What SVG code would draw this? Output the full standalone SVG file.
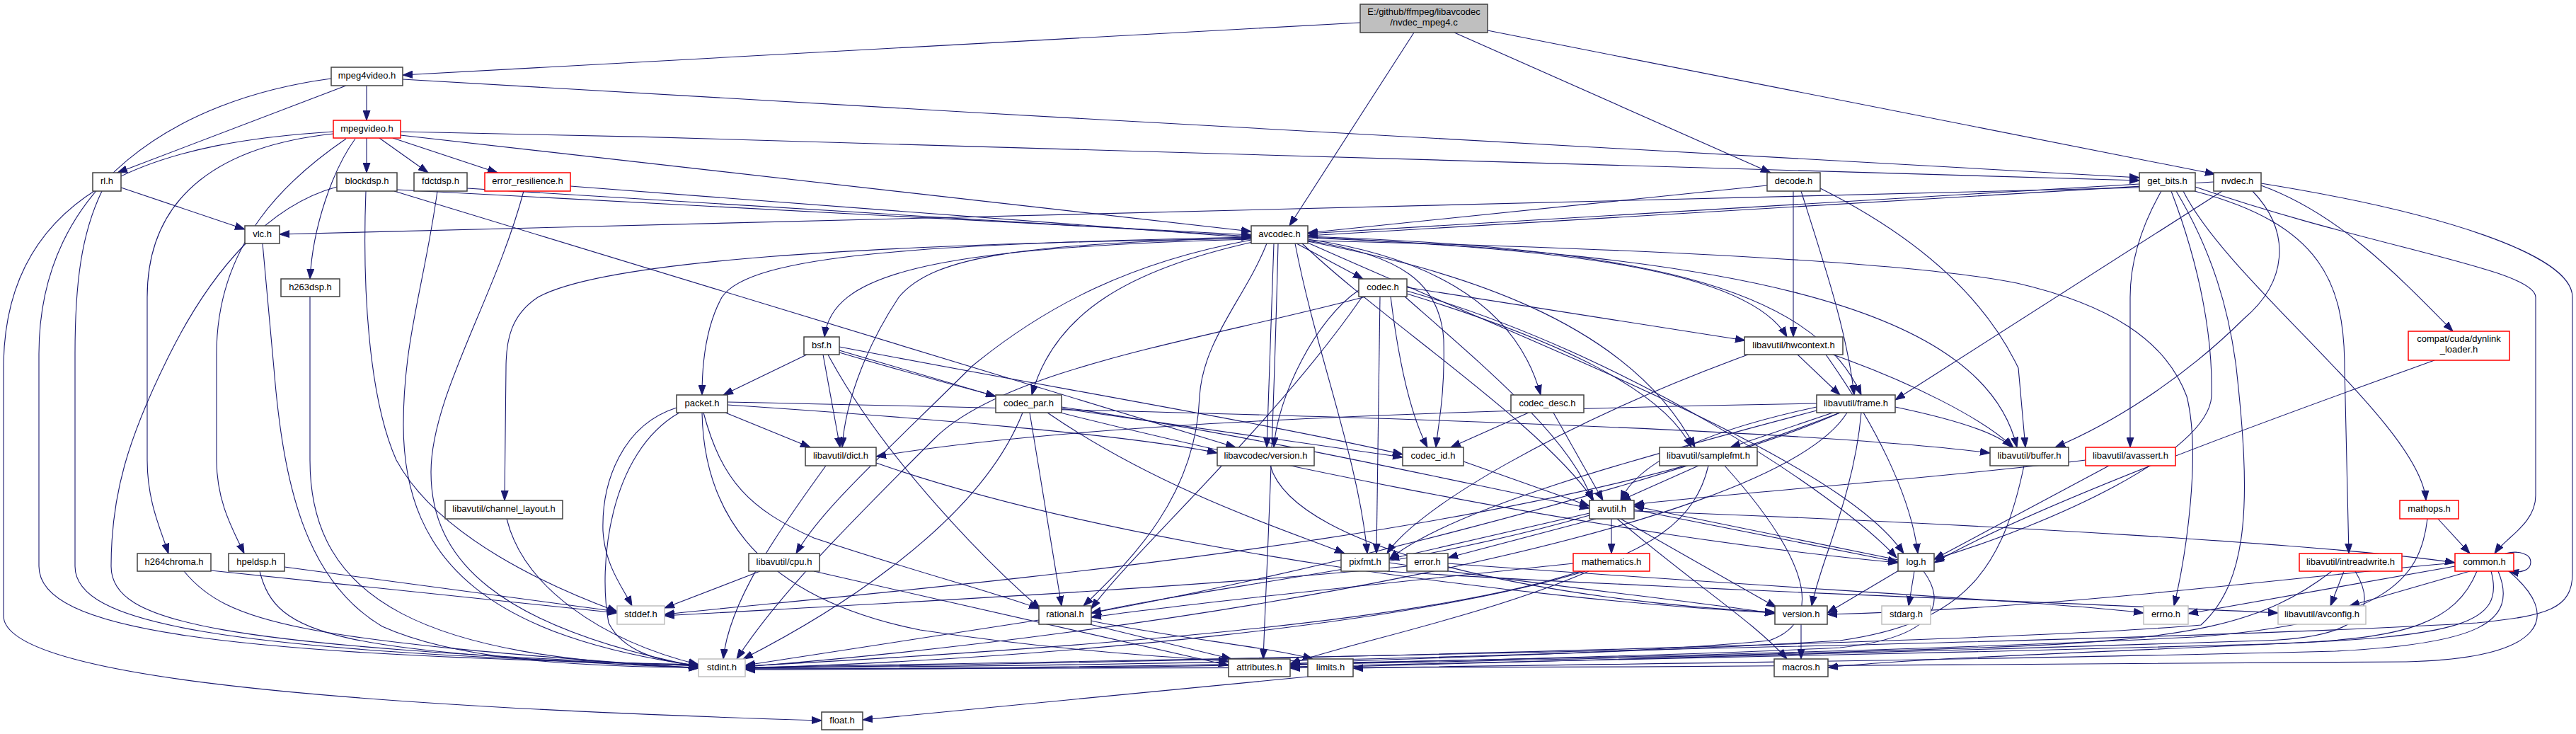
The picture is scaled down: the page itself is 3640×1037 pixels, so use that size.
<svg xmlns="http://www.w3.org/2000/svg" width="3640" height="1037" viewBox="0 0 3640 1037">
<style>
.bg{fill:#fff}
.e path{fill:none;stroke:#191970;stroke-width:1.1;marker-end:url(#a)}
.n rect{fill:#fff;stroke:#404040;stroke-width:1.5}
.n.r rect{stroke:#ff0000}
.n.g rect{stroke:#bfbfbf}
.n.root rect{fill:#bfbfbf}
.n text{font-family:"Liberation Sans",Arial,Helvetica,sans-serif;font-size:13px;text-anchor:middle;fill:#000}
</style>
<defs>
<marker id="a" markerWidth="15" markerHeight="11" refX="14" refY="5.5" orient="auto" markerUnits="userSpaceOnUse">
<path d="M0,0.5 L14,5.5 L0,10.5 z" fill="#191970" stroke="#191970" stroke-width="1"/>
</marker>
</defs>
<rect class="bg" x="0" y="0" width="3640" height="1037"/>
<g id="connectors" class="e">
<path d="M1922,32 L569,106"/>
<path d="M1998,46 L1822,319"/>
<path d="M2055,46 L2502,244"/>
<path d="M2102,43 L3130,246"/>
<path d="M518,121 L518,170"/>
<path d="M489,121 L166,244"/>
<path d="M569,112 C1400,160 2400,220 3023,251"/>
<path d="M468,111 C250,140 55,260 55,500 L55,800 C55,890 300,925 987,939"/>
<path d="M518,195 L518,244"/>
<path d="M536,195 L605,244"/>
<path d="M555,195 L703,244"/>
<path d="M502,196 C470,240 442,320 438,394"/>
<path d="M471,189 C320,205 208,270 208,420 L208,650 C208,710 228,750 238,782"/>
<path d="M489,196 C410,250 306,340 306,500 L306,650 C306,710 330,750 345,782"/>
<path d="M471,186 C250,200 5,250 5,520 L5,870 C5,950 400,995 1161,1018"/>
<path d="M566,186 C1500,205 2500,235 3023,255"/>
<path d="M566,191 L1768,327"/>
<path d="M171,265 L346,324"/>
<path d="M144,270 C115,330 106,400 106,500 L106,800 C106,880 300,920 987,940"/>
<path d="M476,264 C380,290 300,380 240,500 C180,620 157,700 157,800 C157,880 300,912 987,941"/>
<path d="M517,270 C512,400 520,560 560,650 C620,760 780,830 872,864"/>
<path d="M561,268 L1768,332"/>
<path d="M557,270 L1746,632"/>
<path d="M660,266 L1768,334"/>
<path d="M618,270 C600,400 570,480 570,600 C570,800 700,900 987,941"/>
<path d="M806,263 L1768,336"/>
<path d="M740,270 C700,420 609,560 609,667 C609,790 700,885 987,942"/>
<path d="M371,344 L387,520 C400,680 430,820 540,885 C640,930 800,942 987,943"/>
<path d="M438,419 L438,650 C438,850 600,930 987,943"/>
<path d="M298,806 L872,866"/>
<path d="M260,807 C320,880 420,905 987,944"/>
<path d="M402,801 L872,864"/>
<path d="M367,807 C390,900 470,920 987,944"/>
<path d="M1768,338 C1300,350 1175,390 1165,476"/>
<path d="M1768,335 C1300,345 1060,360 1020,420 C998,460 992,510 992,558"/>
<path d="M1768,336 C1450,345 1320,360 1270,420 C1230,480 1195,560 1190,632"/>
<path d="M1768,339 C1600,370 1480,430 1374,517 C1250,640 1160,720 1125,782"/>
<path d="M1768,337 C1200,345 850,370 760,420 C722,445 715,480 715,520 L713,707"/>
<path d="M1790,344 C1760,420 1700,480 1695,560 C1690,700 1600,790 1531,856"/>
<path d="M1806,344 C1800,600 1790,800 1785,931"/>
<path d="M1832,344 L1926,394"/>
<path d="M1770,342 C1600,380 1490,440 1458,558"/>
<path d="M1848,338 C2000,360 2140,420 2177,558"/>
<path d="M1848,340 C1980,360 2035,400 2040,480 C2042,560 2032,600 2029,632"/>
<path d="M1848,341 C2050,380 2300,450 2395,632"/>
<path d="M1848,334 C2300,350 2560,400 2630,558"/>
<path d="M1848,336 C2200,350 2470,380 2525,476"/>
<path d="M1840,344 C1950,450 2180,600 2252,707"/>
<path d="M1848,343 C2200,500 2600,650 2690,782"/>
<path d="M1830,344 C1860,500 1920,650 1932,782"/>
<path d="M1848,335 C2400,360 2800,420 2850,632"/>
<path d="M1848,340 C2300,350 2700,370 2850,400 C2980,430 3060,480 3090,560 C3110,640 3090,780 3072,856"/>
<path d="M1800,344 L1790,632"/>
<path d="M1930,419 C1700,480 1420,520 1320,620 C1200,740 1100,840 1041,931"/>
<path d="M1985,419 C2100,520 2220,620 2250,707"/>
<path d="M1988,406 L2466,481"/>
<path d="M1988,411 C2300,500 2600,700 2680,788"/>
<path d="M1950,419 L1945,782"/>
<path d="M1925,419 C1800,600 1600,780 1542,860"/>
<path d="M1988,415 C2200,480 2350,550 2390,632"/>
<path d="M1965,419 C1975,500 1990,580 2017,632"/>
<path d="M1920,410 C1860,450 1805,560 1800,632"/>
<path d="M1140,501 L1022,558"/>
<path d="M1163,501 L1187,632"/>
<path d="M1186,495 L1407,560"/>
<path d="M1186,490 C1500,550 1800,600 1982,642"/>
<path d="M1170,501 C1250,650 1400,800 1470,860"/>
<path d="M1186,498 C1700,650 2300,760 2682,795"/>
<path d="M2160,583 L2050,632"/>
<path d="M2195,583 L2265,707"/>
<path d="M2068,652 L2246,715"/>
<path d="M1445,583 C1380,750 1150,880 1050,931"/>
<path d="M1455,583 L1500,856"/>
<path d="M1480,583 C1650,700 1850,760 1900,782"/>
<path d="M1500,575 C1800,620 2100,690 2246,718"/>
<path d="M1500,577 L1982,646"/>
<path d="M1025,583 L1145,632"/>
<path d="M1028,572 C1300,590 1600,615 1720,640"/>
<path d="M1028,568 C1600,580 2500,600 2812,640"/>
<path d="M956,576 C880,600 850,680 852,750 C855,800 880,830 893,856"/>
<path d="M960,583 C860,640 845,800 860,880 C880,920 930,935 987,940"/>
<path d="M994,583 C1020,680 1060,720 1150,760 C1300,810 1400,835 1468,860"/>
<path d="M992,583 C995,750 1100,850 1300,890 C1500,920 1650,928 1736,934"/>
<path d="M1167,658 C1100,750 1030,850 1022,931"/>
<path d="M1238,654 C1600,780 2200,850 2508,866"/>
<path d="M1795,658 C1830,780 2200,850 2508,865"/>
<path d="M1074,807 L939,859"/>
<path d="M1150,807 L1736,940"/>
<path d="M1468,876 L1053,940"/>
<path d="M1540,882 L1740,931"/>
<path d="M1542,877 C1650,900 1800,915 1855,931"/>
<path d="M716,733 C740,830 850,905 987,939"/>
<path d="M2400,658 L2290,707"/>
<path d="M2414,658 C2380,800 2200,880 1053,941"/>
<path d="M2437,658 C2520,750 2600,870 2500,905 C2300,925 1950,930 1823,938"/>
<path d="M2567,575 C2450,600 2320,640 2290,707"/>
<path d="M2678,575 C2750,590 2820,610 2843,632"/>
<path d="M2567,570 C2000,580 1500,600 1238,645"/>
<path d="M2600,583 C2300,700 1800,820 1542,866"/>
<path d="M2590,583 L2445,632"/>
<path d="M2567,580 C2300,650 2050,720 1963,790"/>
<path d="M2630,583 C2620,700 2570,800 2560,856"/>
<path d="M2600,583 C2200,760 1300,830 939,868"/>
<path d="M2610,583 C2500,760 1600,900 1053,942"/>
<path d="M2540,501 L2600,558"/>
<path d="M2590,501 C2700,540 2800,590 2845,632"/>
<path d="M2580,501 C2650,600 2700,700 2710,782"/>
<path d="M2470,501 C2200,600 2000,720 1960,782"/>
<path d="M2497,262 L1848,329"/>
<path d="M2534,270 L2534,476"/>
<path d="M2545,270 C2580,380 2610,470 2620,558"/>
<path d="M2572,266 C2660,310 2790,390 2852,520 L2862,632"/>
<path d="M3128,257 C2600,290 2100,320 1848,333"/>
<path d="M3140,270 L2678,565"/>
<path d="M3183,270 C3240,330 3230,400 3171,450 C3080,540 2980,600 2904,632"/>
<path d="M3195,262 C3300,300 3380,380 3466,468"/>
<path d="M3195,259 C3450,300 3635,360 3635,420 L3635,810 C3635,860 3600,870 3500,880 C3000,910 1500,935 1053,943"/>
<path d="M3023,260 L1848,330"/>
<path d="M3023,265 L395,331"/>
<path d="M3054,270 C3020,330 3010,380 3010,420 L3010,632"/>
<path d="M3085,270 C3150,400 3420,600 3428,707"/>
<path d="M3101,270 C3280,317 3313,400 3313,520 L3319,782"/>
<path d="M3102,264 C3350,350 3583,380 3583,420 L3583,700 C3583,740 3540,760 3525,782"/>
<path d="M3068,270 C3110,380 3127,480 3125,560 C3120,640 2900,740 2733,790"/>
<path d="M3075,270 C3127,357 3150,440 3160,520 C3180,700 3180,820 3110,883 C2800,910 1500,938 1053,944"/>
<path d="M2246,725 L1963,790"/>
<path d="M2255,733 L2046,788"/>
<path d="M2277,733 L2277,782"/>
<path d="M2290,733 L2510,858"/>
<path d="M2285,733 C2400,830 2480,880 2525,931"/>
<path d="M2309,720 L2682,794"/>
<path d="M2246,728 C2000,800 1700,830 1542,866"/>
<path d="M2309,722 C2800,740 3300,770 3469,795"/>
<path d="M2682,791 L2309,715"/>
<path d="M2705,807 L2697,856"/>
<path d="M2683,806 L2582,866"/>
<path d="M2718,807 C2750,850 2740,900 2600,915 C2300,930 1900,935 1823,940"/>
<path d="M2046,796 C2500,830 2900,850 3029,866"/>
<path d="M1988,800 C1700,830 1200,855 939,870"/>
<path d="M2223,796 C2000,820 1700,850 1542,872"/>
<path d="M2240,807 C2000,880 1500,930 1053,944"/>
<path d="M2245,807 C2100,870 1900,910 1823,938"/>
<path d="M1963,795 C2200,830 2400,850 2508,867"/>
<path d="M1960,807 C2300,830 2900,850 3219,866"/>
<path d="M2545,882 L2545,931"/>
<path d="M3469,800 L3092,867"/>
<path d="M3490,807 L3320,856"/>
<path d="M3469,795 C3200,820 2900,860 2582,868"/>
<path d="M3500,807 C3470,880 3400,900 3250,908 C3000,920 2700,930 2583,943"/>
<path d="M3530,807 C3560,880 3500,910 3300,920 C2700,935 2100,940 1912,944"/>
<path d="M3545,807 C3620,870 3600,930 3400,935 C2800,942 1500,945 1053,945"/>
<path d="M3520,807 C3540,880 3480,900 3200,910 C2700,925 2100,935 1823,942"/>
<path d="M3540,782 C3560,777 3576,783 3576,794 C3576,806 3562,810 3545,807"/>
<path d="M3445,733 L3490,782"/>
<path d="M3430,733 C3420,820 3370,880 3100,900 C2500,930 1500,945 1053,945"/>
<path d="M3312,807 L3293,856"/>
<path d="M3295,807 C3200,880 3100,905 2800,915 C2200,935 1500,946 1053,946"/>
<path d="M3328,807 C3360,860 3340,900 3200,905 C2700,922 2100,935 1823,944"/>
<path d="M2947,650 C2700,680 2400,700 2309,713"/>
<path d="M2980,658 L2733,790"/>
<path d="M3440,509 C3300,560 2900,700 2733,795"/>
<path d="M2860,658 C2830,800 2780,880 2600,905 C2200,930 1500,942 1053,943"/>
<path d="M1848,956 L1219,1017"/>
</g>
<g id="root" class="n root"><rect x="1922" y="6" width="180" height="40"/><text x="2012" y="21">E:/github/ffmpeg/libavcodec</text><text x="2012" y="36">/nvdec_mpeg4.c</text></g>
<g id="mpeg4video" class="n"><rect x="468" y="95" width="101" height="26"/><text x="518.5" y="111">mpeg4video.h</text></g>
<g id="mpegvideo" class="n r"><rect x="471" y="170" width="95" height="25"/><text x="518.5" y="185.5">mpegvideo.h</text></g>
<g id="rl" class="n"><rect x="131" y="244" width="40" height="26"/><text x="151" y="260">rl.h</text></g>
<g id="blockdsp" class="n"><rect x="476" y="244" width="85" height="26"/><text x="518.5" y="260">blockdsp.h</text></g>
<g id="fdctdsp" class="n"><rect x="585" y="244" width="75" height="26"/><text x="622.5" y="260">fdctdsp.h</text></g>
<g id="error_resilience" class="n r"><rect x="685" y="244" width="121" height="26"/><text x="745.5" y="260">error_resilience.h</text></g>
<g id="vlc" class="n"><rect x="346" y="319" width="49" height="25"/><text x="370.5" y="334.5">vlc.h</text></g>
<g id="h263dsp" class="n"><rect x="397" y="394" width="83" height="25"/><text x="438.5" y="409.5">h263dsp.h</text></g>
<g id="avcodec" class="n"><rect x="1768" y="319" width="80" height="25"/><text x="1808" y="334.5">avcodec.h</text></g>
<g id="bsf" class="n"><rect x="1136" y="476" width="50" height="25"/><text x="1161" y="491.5">bsf.h</text></g>
<g id="decode" class="n"><rect x="2497" y="244" width="75" height="26"/><text x="2534.5" y="260">decode.h</text></g>
<g id="codec" class="n"><rect x="1920" y="394" width="68" height="25"/><text x="1954" y="409.5">codec.h</text></g>
<g id="hwcontext" class="n"><rect x="2465" y="476" width="139" height="25"/><text x="2534.5" y="491.5">libavutil/hwcontext.h</text></g>
<g id="get_bits" class="n"><rect x="3023" y="244" width="79" height="26"/><text x="3062.5" y="260">get_bits.h</text></g>
<g id="nvdec" class="n"><rect x="3128" y="244" width="67" height="26"/><text x="3161.5" y="260">nvdec.h</text></g>
<g id="dynlink_loader" class="n r"><rect x="3403" y="468" width="143" height="41"/><text x="3474.5" y="483">compat/cuda/dynlink</text><text x="3474.5" y="498">_loader.h</text></g>
<g id="channel_layout" class="n"><rect x="629" y="707" width="166" height="26"/><text x="712" y="723">libavutil/channel_layout.h</text></g>
<g id="h264chroma" class="n"><rect x="194" y="782" width="104" height="25"/><text x="246" y="797.5">h264chroma.h</text></g>
<g id="hpeldsp" class="n"><rect x="323" y="782" width="79" height="25"/><text x="362.5" y="797.5">hpeldsp.h</text></g>
<g id="stddef" class="n g"><rect x="872" y="856" width="67" height="26"/><text x="905.5" y="872">stddef.h</text></g>
<g id="packet" class="n"><rect x="956" y="558" width="72" height="25"/><text x="992" y="573.5">packet.h</text></g>
<g id="codec_par" class="n"><rect x="1407" y="558" width="93" height="25"/><text x="1453.5" y="573.5">codec_par.h</text></g>
<g id="dict" class="n"><rect x="1138" y="632" width="100" height="26"/><text x="1188" y="648">libavutil/dict.h</text></g>
<g id="lavc_version" class="n"><rect x="1720" y="632" width="137" height="26"/><text x="1788.5" y="648">libavcodec/version.h</text></g>
<g id="cpu" class="n"><rect x="1058" y="782" width="100" height="25"/><text x="1108" y="797.5">libavutil/cpu.h</text></g>
<g id="rational" class="n"><rect x="1468" y="856" width="74" height="26"/><text x="1505" y="872">rational.h</text></g>
<g id="stdint" class="n g"><rect x="987" y="931" width="66" height="25"/><text x="1020" y="946.5">stdint.h</text></g>
<g id="attributes" class="n"><rect x="1736" y="931" width="87" height="25"/><text x="1779.5" y="946.5">attributes.h</text></g>
<g id="float" class="n"><rect x="1161" y="1006" width="58" height="25"/><text x="1190" y="1021.5">float.h</text></g>
<g id="codec_desc" class="n"><rect x="2135" y="558" width="103" height="25"/><text x="2186.5" y="573.5">codec_desc.h</text></g>
<g id="codec_id" class="n"><rect x="1982" y="632" width="86" height="26"/><text x="2025" y="648">codec_id.h</text></g>
<g id="samplefmt" class="n"><rect x="2345" y="632" width="138" height="26"/><text x="2414" y="648">libavutil/samplefmt.h</text></g>
<g id="frame" class="n"><rect x="2567" y="558" width="111" height="25"/><text x="2622.5" y="573.5">libavutil/frame.h</text></g>
<g id="avutil" class="n"><rect x="2246" y="707" width="63" height="26"/><text x="2277.5" y="723">avutil.h</text></g>
<g id="pixfmt" class="n"><rect x="1895" y="782" width="68" height="25"/><text x="1929" y="797.5">pixfmt.h</text></g>
<g id="error" class="n"><rect x="1988" y="782" width="58" height="25"/><text x="2017" y="797.5">error.h</text></g>
<g id="mathematics" class="n r"><rect x="2223" y="782" width="108" height="25"/><text x="2277" y="797.5">mathematics.h</text></g>
<g id="log" class="n"><rect x="2682" y="782" width="51" height="25"/><text x="2707.5" y="797.5">log.h</text></g>
<g id="version" class="n"><rect x="2508" y="856" width="74" height="26"/><text x="2545" y="872">version.h</text></g>
<g id="stdarg" class="n g"><rect x="2659" y="856" width="69" height="26"/><text x="2693.5" y="872">stdarg.h</text></g>
<g id="limits" class="n"><rect x="1848" y="931" width="64" height="25"/><text x="1880" y="946.5">limits.h</text></g>
<g id="macros" class="n"><rect x="2507" y="931" width="76" height="25"/><text x="2545" y="946.5">macros.h</text></g>
<g id="buffer" class="n"><rect x="2812" y="632" width="111" height="26"/><text x="2867.5" y="648">libavutil/buffer.h</text></g>
<g id="avassert" class="n r"><rect x="2947" y="632" width="127" height="26"/><text x="3010.5" y="648">libavutil/avassert.h</text></g>
<g id="mathops" class="n r"><rect x="3391" y="707" width="83" height="26"/><text x="3432.5" y="723">mathops.h</text></g>
<g id="intreadwrite" class="n r"><rect x="3249" y="782" width="145" height="25"/><text x="3321.5" y="797.5">libavutil/intreadwrite.h</text></g>
<g id="common" class="n r"><rect x="3469" y="782" width="83" height="25"/><text x="3510.5" y="797.5">common.h</text></g>
<g id="errno" class="n g"><rect x="3029" y="856" width="63" height="26"/><text x="3060.5" y="872">errno.h</text></g>
<g id="avconfig" class="n g"><rect x="3219" y="856" width="124" height="26"/><text x="3281" y="872">libavutil/avconfig.h</text></g>
</svg>
